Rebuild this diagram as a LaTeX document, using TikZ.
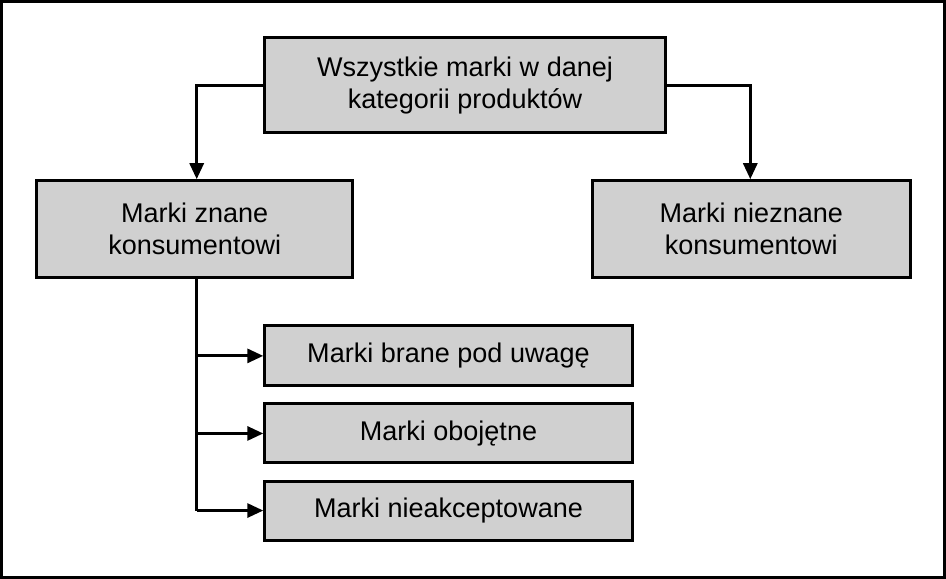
\documentclass[tikz,border=0pt]{standalone}
\usepackage{fontspec}
\setmainfont{Liberation Sans}
\usetikzlibrary{arrows.meta}
\begin{document}
\begin{tikzpicture}[x=1pt,y=-1pt,
  box/.style={draw,line width=3pt,fill={rgb,255:red,208;green,208;blue,208},inner sep=0pt,align=center,font=\fontsize{27}{32}\selectfont},
  conn/.style={line width=3pt,-{Triangle[length=16pt,width=14pt]}}]
\draw[line width=3pt,fill=white] (2,2) rectangle (944,577);
\node[box,minimum width=400pt,minimum height=95pt] (top) at (465,85.5) {Wszystkie marki w danej\\kategorii produktów};
\node[box,minimum width=316pt,minimum height=97pt] (left) at (195,229.5) {Marki znane\\konsumentowi};
\node[box,minimum width=318pt,minimum height=97pt] (right) at (751,229.5) {Marki nieznane\\konsumentowi};
\node[box,minimum width=367pt,minimum height=60pt] (a) at (448.5,356) {Marki brane pod uwagę};
\node[box,minimum width=367pt,minimum height=59pt] (b) at (448.5,433.5) {Marki obojętne};
\node[box,minimum width=367pt,minimum height=59pt] (c) at (448.5,510.5) {Marki nieakceptowane};
\coordinate (tl) at (197,85.5);
\coordinate (tr) at (750,85.5);
\draw[conn] (top.west) -- (tl) -- (tl |- left.north);
\draw[conn] (top.east) -- (tr) -- (tr |- right.north);
\coordinate (v) at (197,510.5);
\draw[line width=3pt] (197,278) -- (v);
\draw[conn] (197,356) -- (a.west);
\draw[conn] (197,433.5) -- (b.west);
\draw[conn] (v) -- (c.west);
\end{tikzpicture}
\end{document}
